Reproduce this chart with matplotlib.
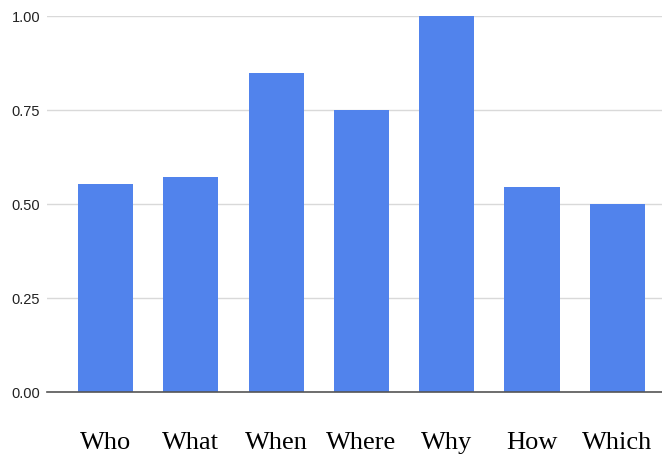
import matplotlib.pyplot as plt

categories = ["Who", "What", "When", "Where", "Why", "How", "Which"]
values = [0.553, 0.572, 0.848, 0.75, 1.0, 0.545, 0.5]
yticks = [0.0, 0.25, 0.5, 0.75, 1.0]

fig = plt.figure(figsize=(6.62, 4.57), dpi=100)
ax = fig.add_axes([47 / 662, 1 - 392 / 457, 1 - 47 / 662, (392 - 16) / 457])

ax.bar(range(len(categories)), values, width=0.645, color="#5183EC", zorder=3)

ax.set_ylim(0, 1)
ax.set_xlim(-0.686, 6.524)
ax.set_yticks(yticks)
ax.set_yticklabels(["%.2f" % v for v in yticks], fontsize=10.5,
                   family="Liberation Sans", color="#222222")
ax.set_xticks(range(len(categories)))
ax.set_xticklabels(categories, fontsize=19, family="Liberation Serif")
ax.tick_params(axis="y", length=0, pad=5)
ax.tick_params(axis="x", length=0, pad=29)

ax.grid(axis="y", color="#d9d9d9", linewidth=1, zorder=0)
for s in ["top", "right", "left"]:
    ax.spines[s].set_visible(False)
ax.spines["bottom"].set_color("#555555")
ax.spines["bottom"].set_linewidth(1.2)
ax.spines["bottom"].set_zorder(4)

fig.savefig("out.png", dpi=100)
